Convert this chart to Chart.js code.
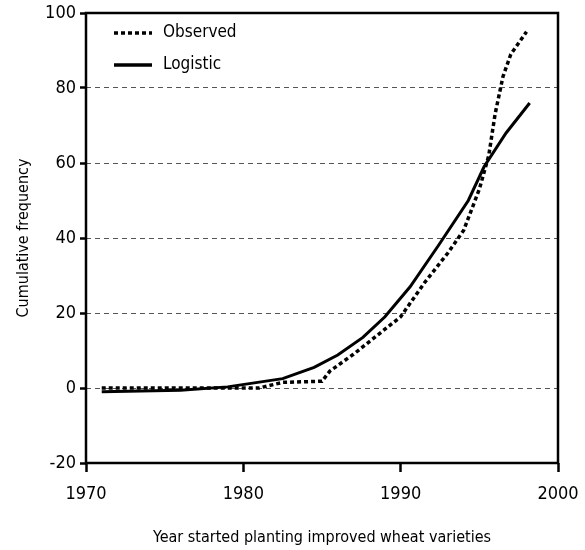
<!DOCTYPE html>
<html>
<head>
<meta charset="utf-8">
<script src="https://cdn.jsdelivr.net/npm/chart.js@4.4.1/dist/chart.umd.min.js"></script>
<style>
  html, body { margin: 0; padding: 0; background: #fff; }
  #wrap { width: 585px; height: 550px; }
</style>
</head>
<body>
<div id="wrap"><canvas id="adoptionChart" width="585" height="550"></canvas></div>
<script>
const seriesLabels = ['Observed', 'Logistic'];

const obsYears  = [1971, 1973, 1975, 1977, 1979, 1981, 1982.5, 1985, 1985.5, 1987, 1988.5, 1990, 1991.5, 1993, 1994, 1995, 1995.6, 1996, 1996.5, 1997, 1998];
const obsValues = [0, 0, 0, 0, 0, 0, 1.5, 1.8, 4.5, 9, 14, 19, 28, 36, 42, 53, 62, 73, 83, 89, 95];

const logYears  = [1971, 1976, 1979, 1982.5, 1984.5, 1986, 1987.6, 1989, 1990.6, 1992.4, 1994.3, 1995.3, 1996.7, 1998.2];
const logValues = [-1.0, -0.6, 0.3, 2.5, 5.5, 8.8, 13.5, 19, 27, 38, 50, 59, 68, 76];

const xTicks = [1970, 1980, 1990, 2000];
const yTicks = [-20, 0, 20, 40, 60, 80, 100];

const FONT = "'DejaVu Sans Condensed', 'Liberation Sans Narrow', sans-serif";
const OBS_DASH = [4, 3];

const toPoints = (xs, ys) => xs.map((x, i) => ({ x: x, y: ys[i] }));

// frame around the plot + legend inside the top-left corner
const framePlugin = {
    id: 'frame',
    afterDraw(chart) {
        const { ctx, chartArea: a } = chart;
        ctx.save();
        ctx.strokeStyle = '#000';
        ctx.lineWidth = 2.5;
        ctx.strokeRect(a.left, a.top, a.right - a.left, a.bottom - a.top);

        const rows = [
            { y: 33, dash: OBS_DASH, label: seriesLabels[0] },
            { y: 65, dash: [], label: seriesLabels[1] }
        ];
        ctx.font = '17px ' + FONT;
        ctx.textBaseline = 'middle';
        ctx.fillStyle = '#000';
        rows.forEach(r => {
            ctx.beginPath();
            ctx.setLineDash(r.dash);
            ctx.lineWidth = 3.5;
            ctx.lineCap = 'butt';
            ctx.moveTo(114, r.y);
            ctx.lineTo(152, r.y);
            ctx.stroke();
            ctx.setLineDash([]);
            ctx.fillText(r.label, 163, r.y);
        });
        ctx.restore();
    }
};

const ctx = document.getElementById('adoptionChart').getContext('2d');
new Chart(ctx, {
    type: 'line',
    data: {
        datasets: [
            {
                label: seriesLabels[0],
                data: toPoints(obsYears, obsValues),
                borderColor: '#000',
                borderWidth: 3.5,
                borderDash: OBS_DASH,
                pointRadius: 0,
                tension: 0,
                fill: false
            },
            {
                label: seriesLabels[1],
                data: toPoints(logYears, logValues),
                borderColor: '#000',
                borderWidth: 3,
                pointRadius: 0,
                tension: 0,
                fill: false
            }
        ]
    },
    options: {
        responsive: false,
        animation: false,
        layout: { padding: { left: 14, top: 13, right: 27, bottom: 0 } },
        plugins: {
            legend: { display: false },
            tooltip: { enabled: false }
        },
        scales: {
            x: {
                type: 'linear',
                min: 1970,
                max: 2000,
                afterFit: (s) => { s.height = 87; s.paddingLeft = 0; s.paddingRight = 0; },
                afterBuildTicks: (s) => { s.ticks = xTicks.map(v => ({ value: v })); },
                ticks: {
                    color: '#000',
                    font: { family: FONT, size: 18 },
                    padding: 12,
                    maxRotation: 0,
                    autoSkip: false,
                    callback: (v) => String(v)
                },
                grid: {
                    drawOnChartArea: false,
                    tickLength: 9,
                    tickColor: '#000',
                    tickWidth: 2.5
                },
                border: { display: false },
                title: {
                    display: true,
                    text: 'Year started planting improved wheat varieties',
                    color: '#000',
                    font: { family: FONT, size: 16 },
                    padding: { top: 12, bottom: 3 }
                }
            },
            y: {
                min: -20,
                max: 100,
                afterFit: (s) => { s.width = 72; s.paddingTop = 0; s.paddingBottom = 0; },
                afterBuildTicks: (s) => { s.ticks = yTicks.map(v => ({ value: v })); },
                ticks: {
                    color: '#000',
                    font: { family: FONT, size: 18 },
                    padding: 4,
                    callback: (v) => String(v)
                },
                grid: {
                    color: (c) => (c.tick && (c.tick.value === -20 || c.tick.value === 100)) ? 'rgba(0,0,0,0)' : '#555',
                    lineWidth: 1,
                    tickLength: 6,
                    tickColor: '#000',
                    tickWidth: 2.5
                },
                border: { display: false, dash: [5, 4] },
                title: {
                    display: true,
                    text: 'Cumulative frequency',
                    color: '#000',
                    font: { family: FONT, size: 16 },
                    padding: { top: 0, bottom: 8 }
                }
            }
        }
    },
    plugins: [framePlugin]
});
</script>
</body>
</html>
